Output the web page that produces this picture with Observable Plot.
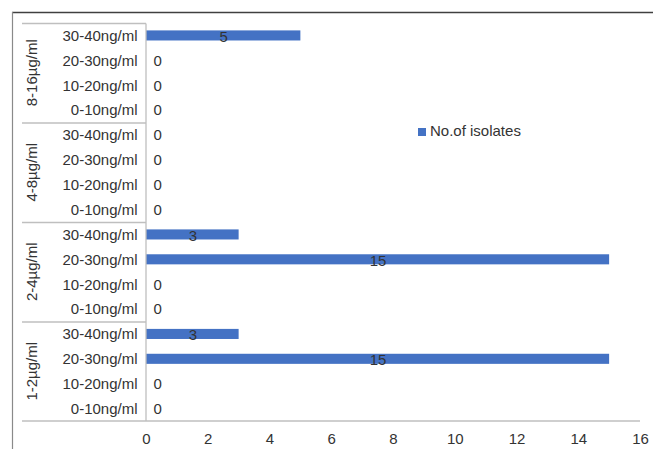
<!DOCTYPE html>
<html><head><meta charset="utf-8">
<script src="https://cdn.jsdelivr.net/npm/d3@7"></script>
<script src="https://cdn.jsdelivr.net/npm/@observablehq/plot@0.6"></script>
<style>
html,body{margin:0;padding:0;background:#fff;}
#chart{position:relative;width:653px;height:449px;overflow:hidden;}
#chart svg{font-family:"Liberation Sans",Arial,sans-serif;}
</style></head><body><div id="chart"></div>
<script>
// Outer categories (top to bottom) and inner categories (top to bottom within each group)
const groups = ["8-16µg/ml", "4-8µg/ml", "2-4µg/ml", "1-2µg/ml"];
const ranges = ["30-40ng/ml", "20-30ng/ml", "10-20ng/ml", "0-10ng/ml"];
// No. of isolates, in the order of `ranges`
const isolates8to16 = [5, 0, 0, 0];
const isolates4to8 = [0, 0, 0, 0];
const isolates2to4 = [3, 15, 0, 0];
const isolates1to2 = [3, 15, 0, 0];
const xTicks = [0, 2, 4, 6, 8, 10, 12, 14, 16];
const seriesName = "No.of isolates";

const barColor = "#4472c4";
const textColor = "#333333";
const axisColor = "#bfbfbf";

const valuesByGroup = [isolates8to16, isolates4to8, isolates2to4, isolates1to2];
const rows = [];
groups.forEach((g, gi) => ranges.forEach((r, ri) => rows.push({group: g, range: r, key: g + "|" + r, value: valuesByGroup[gi][ri]})));
const keys = rows.map(d => d.key);

const W = 653, H = 449;
const mL = 146, mR = 13, mT = 23, mB = 28;

function decorations(index, scales, values, dims) {
  const svg = d3.create("svg:g");
  const y = scales.y, x = scales.x;
  const step = y(keys[1]) - y(keys[0]);
  const leftX = dims.marginLeft - 124;
  const x0 = x(0);
  const right = dims.width - dims.marginRight;
  // group separators and group labels
  groups.forEach((g, gi) => {
    const top = y(g + "|" + ranges[0]);
    svg.append("line").attr("x1", leftX).attr("x2", x0).attr("y1", top + 0.5).attr("y2", top + 0.5)
      .attr("stroke", axisColor).attr("stroke-width", 1.3);
    svg.append("text")
      .attr("transform", `translate(${leftX + 11},${top + step * ranges.length / 2}) rotate(-90)`)
      .attr("text-anchor", "middle").attr("dominant-baseline", "middle")
      .attr("fill", textColor).attr("font-size", 15).text(g);
  });
  const bottom = y(keys[keys.length - 1]) + step;
  svg.append("line").attr("x1", leftX).attr("x2", right).attr("y1", bottom).attr("y2", bottom)
    .attr("stroke", axisColor).attr("stroke-width", 1.3);
  // vertical axis line
  svg.append("line").attr("x1", x0).attr("x2", x0).attr("y1", y(keys[0]) + 0.5).attr("y2", bottom)
    .attr("stroke", axisColor).attr("stroke-width", 1.3);
  // chart area frame (top & left)
  svg.append("line").attr("x1", 12).attr("x2", dims.width).attr("y1", 12.5).attr("y2", 12.5)
    .attr("stroke", "#404040").attr("stroke-width", 1.5);
  svg.append("line").attr("x1", 12.5).attr("x2", 12.5).attr("y1", 12).attr("y2", dims.height)
    .attr("stroke", "#8a8a8a").attr("stroke-width", 1.2);
  // legend
  const lg = svg.append("g").attr("transform", "translate(418,128)");
  lg.append("rect").attr("width", 8).attr("height", 8).attr("fill", barColor);
  lg.append("text").attr("x", 12).attr("y", 4).attr("dominant-baseline", "middle")
    .attr("text-anchor", "start")
    .attr("fill", textColor).attr("font-size", 15).text(seriesName);
  return svg.node();
}

const chart = Plot.plot({
  width: W, height: H,
  marginLeft: mL, marginRight: mR, marginTop: mT, marginBottom: mB,
  style: {fontFamily: "Liberation Sans, Arial, sans-serif", fontSize: "15px", color: textColor, background: "#fff"},
  x: {domain: [0, 16], axis: null},
  y: {domain: keys, padding: 0, round: false, axis: null},
  marks: [
    Plot.barX(rows, {x: "value", y: "key", fill: barColor, insetTop: 7.4, insetBottom: 7.4}),
    Plot.axisX({ticks: xTicks, tickSize: 0, tickPadding: 12, fontSize: 15, label: null, fill: textColor}),
    Plot.axisY({tickSize: 0, tickPadding: 9, fontSize: 15, label: null, tickFormat: d => d.split("|")[1], fill: textColor}),
    Plot.text(rows.filter(d => d.value > 0), {x: d => d.value / 2, y: "key", text: d => String(d.value), fill: textColor, fontSize: 15, dy: 1}),
    Plot.text(rows.filter(d => d.value === 0), {x: "value", y: "key", text: d => String(d.value), fill: textColor, fontSize: 15, textAnchor: "start", dx: 7}),
    decorations
  ]
});
document.getElementById("chart").appendChild(chart);
</script></body></html>
